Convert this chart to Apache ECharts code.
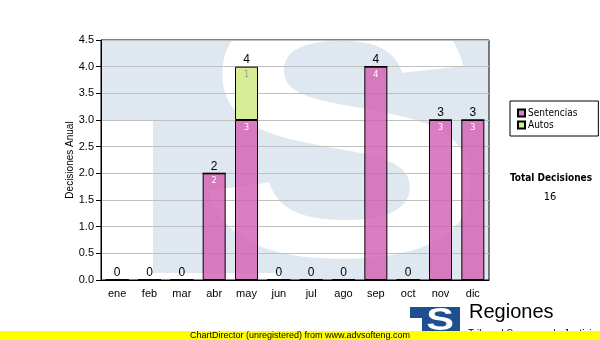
<!DOCTYPE html>
<html>
<head>
<meta charset="utf-8">
<script src="https://cdn.jsdelivr.net/npm/echarts@6/dist/echarts.min.js"></script>
<style>
html,body{margin:0;padding:0;background:#fff;}
#c{width:600px;height:340px;}
</style>
</head>
<body>
<div id="c"></div>
<script>
const categories = ['ene','feb','mar','abr','may','jun','jul','ago','sep','oct','nov','dic'];
const sentencias = [0,0,0,2,3,0,0,0,4,0,3,3];
const autos = [0,0,0,0,1,0,0,0,0,0,0,0];
const seriesNames = ['Sentencias','Autos'];
const yMin = 0, yMax = 4.5, yStep = 0.5;
const totalTitle = 'Total Decisiones';
const yAxisTitle = 'Decisiones Anual';

const totals = categories.map((_, i) => sentencias[i] + autos[i]);
const grandTotal = totals.reduce((a, b) => a + b, 0);

const chart = echarts.init(document.getElementById('c'), null, {renderer: 'canvas'});
const wmBlue = '#dfe8f1';
const fontMain = "'Liberation Sans', Arial, sans-serif";
const fontTah = "'DejaVu Sans Condensed', 'DejaVu Sans', sans-serif";

chart.setOption({
  animation: false,
  backgroundColor: '#ffffff',
  grid: {left: 101, top: 40, right: 111, bottom: 60, show: true, borderColor: '#000', borderWidth: 1, backgroundColor: 'transparent'},
  legend: {
    data: seriesNames,
    orient: 'vertical',
    left: 510, top: 101,
    padding: [6, 21, 5, 7],
    itemGap: 0,
    itemWidth: 7, itemHeight: 7,
    icon: 'rect',
    backgroundColor: '#fff',
    borderColor: '#000', borderWidth: 1,
    textStyle: {fontFamily: fontTah, fontSize: 10, color: '#000', lineHeight: 12, padding: [0,0,0,-2]}
  },
  xAxis: {
    type: 'category',
    data: categories,
    axisLine: {lineStyle: {color: '#000', width: 1}},
    axisTick: {alignWithLabel: true, length: 4, lineStyle: {color: '#000'}},
    axisLabel: {fontFamily: fontMain, fontSize: 11, color: '#000', margin: 8},
    splitLine: {show: false}
  },
  yAxis: {
    type: 'value',
    min: yMin, max: yMax, interval: yStep,
    name: yAxisTitle,
    nameLocation: 'middle',
    nameGap: 26,
    nameMoveOverlap: false,
    nameTextStyle: {fontFamily: fontMain, fontSize: 10, color: '#000'},
    axisLine: {show: true, lineStyle: {color: '#000', width: 1}},
    axisTick: {show: true, length: 5, lineStyle: {color: '#000'}},
    axisLabel: {fontFamily: fontMain, fontSize: 11, color: '#000', margin: 7, formatter: v => v.toFixed(1)},
    splitLine: {show: true, lineStyle: {color: '#c0c0c0', width: 1}}
  },
  series: [
    {
      name: seriesNames[0], type: 'bar', stack: 'a', data: sentencias, barWidth: 23,
      itemStyle: {color: 'rgba(213,92,177,0.8)', borderColor: '#000', borderWidth: 1},
      label: {show: true, position: 'insideTop', distance: 3, color: '#fff', fontFamily: fontTah, fontSize: 9,
        formatter: p => p.value > 0 ? String(p.value) : ''}
    },
    {
      name: seriesNames[1], type: 'bar', stack: 'a', data: autos, barWidth: 23,
      itemStyle: {color: '#d6ec95', borderColor: '#000', borderWidth: 1},
      label: {show: true, position: 'insideTop', distance: 3, color: '#9a9a9a', fontFamily: fontTah, fontSize: 9,
        formatter: p => p.value > 0 ? String(p.value) : ''}
    },
    {
      name: 'total', type: 'bar', stack: 'a', data: categories.map(() => 0), barWidth: 23,
      itemStyle: {color: 'transparent', borderWidth: 0},
      label: {show: true, position: 'top', distance: 1, color: '#000', fontFamily: fontMain, fontSize: 12,
        formatter: p => String(totals[p.dataIndex])}
    }
  ],
  graphic: [
    // watermark
    {type: 'rect', z: -10, shape: {x: 101, y: 40, width: 388, height: 240}, style: {fill: wmBlue}},
    {type: 'rect', z: -9, shape: {x: 101, y: 121, width: 52, height: 159}, style: {fill: '#fff'}},
    {type: 'rect', z: -9, shape: {x: 101, y: 273, width: 180, height: 7}, style: {fill: '#fff'}},
    {type: 'text', z: -8, x: 342, y: 156, scaleX: 1.22, scaleY: 1,
      style: {text: 'S', x: 0, y: 0, font: "bold 360px 'Liberation Sans', Arial, sans-serif", fill: '#fff',
        textAlign: 'center', textVerticalAlign: 'middle', align: 'center', verticalAlign: 'middle'}},
    // totals panel
    {type: 'text', style: {text: totalTitle, x: 551, y: 178, font: "bold 10px " + fontTah, fill: '#000',
      textAlign: 'center', textVerticalAlign: 'middle', align: 'center', verticalAlign: 'middle'}},
    {type: 'text', style: {text: String(grandTotal), x: 550, y: 197, font: "11px " + fontTah, fill: '#000',
      textAlign: 'center', textVerticalAlign: 'middle', align: 'center', verticalAlign: 'middle'}},
    // bottom logo
    {type: 'rect', shape: {x: 410, y: 307, width: 50, height: 25}, style: {fill: '#1d4f91'}},
    {type: 'rect', shape: {x: 410, y: 318, width: 12, height: 14}, style: {fill: '#fff'}},
    {type: 'text', x: 440, y: 321, scaleX: 1.3,
      style: {text: 'S', x: 0, y: 0, font: "bold 32px 'Liberation Sans', Arial, sans-serif", fill: '#fff',
        textAlign: 'center', textVerticalAlign: 'middle', align: 'center', verticalAlign: 'middle'}},
    {type: 'text', style: {text: 'Regiones', x: 469, y: 322, font: "20px " + fontMain, fill: '#000',
      textAlign: 'left', textVerticalAlign: 'bottom', align: 'left', verticalAlign: 'bottom'}},
    {type: 'text', style: {text: 'Tribunal Supremo de Justicia', x: 468, y: 329, font: "10px " + fontMain, fill: '#000',
      textAlign: 'left', textVerticalAlign: 'top', align: 'left', verticalAlign: 'top'}},
    // unregistered band
    {type: 'rect', z: 20, shape: {x: 0, y: 331, width: 600, height: 9}, style: {fill: '#ffff00'}},
    {type: 'text', z: 21, style: {text: 'ChartDirector (unregistered) from www.advsofteng.com', x: 300, y: 336,
      font: "9px " + fontMain, fill: '#000', textAlign: 'center', textVerticalAlign: 'middle', align: 'center', verticalAlign: 'middle'}}
  ]
});
</script>
</body>
</html>
